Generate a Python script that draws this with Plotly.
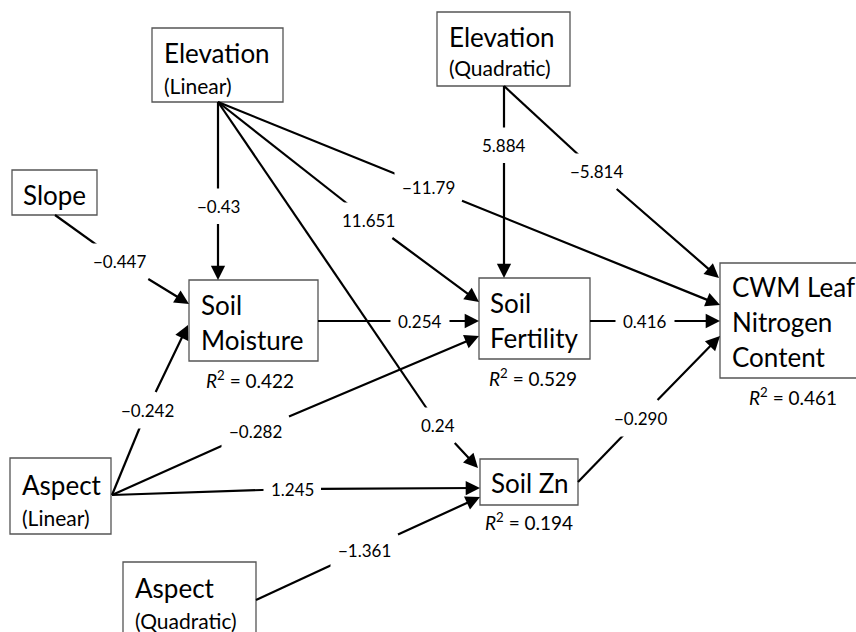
import plotly.graph_objects as go

# ---- data ----
node_ids = ["elev_lin", "elev_quad", "slope", "moist", "fert", "cwm", "asp_lin", "asp_quad", "zn"]
node_main = ["Elevation", "Elevation", "Slope", "Soil", "Soil", "CWM Leaf", "Aspect", "Aspect", "Soil Zn"]
node_sub = ["(Linear)", "(Quadratic)", "", "Moisture", "Fertility", "Nitrogen", "(Linear)", "(Quadratic)", ""]
node_sub2 = ["", "", "", "", "", "Content", "", "", ""]
r2_nodes = ["moist", "fert", "cwm", "zn"]
r2_values = ["0.422", "0.529", "0.461", "0.194"]

edge_from = ["elev_lin", "slope", "elev_lin", "elev_lin", "elev_lin", "elev_quad", "elev_quad",
             "moist", "fert", "asp_lin", "asp_lin", "asp_lin", "asp_quad", "zn"]
edge_to = ["moist", "moist", "fert", "cwm", "zn", "fert", "cwm",
           "fert", "cwm", "moist", "fert", "zn", "zn", "cwm"]
edge_coef = ["−0.43", "−0.447", "11.651", "−11.79", "0.24", "5.884", "−5.814",
             "0.254", "0.416", "−0.242", "−0.282", "1.245", "−1.361", "−0.290"]

# ---- layout (positions, pixels) ----
box = {  # x0, y0, x1, y1
    "elev_lin": (152, 28, 283, 102),
    "elev_quad": (437, 12, 570, 86),
    "slope": (12, 170, 97, 215),
    "moist": (189, 280, 318, 361),
    "fert": (479, 278, 590, 359),
    "cwm": (720, 263, 870, 378),
    "asp_lin": (10, 458, 111, 534),
    "asp_quad": (123, 562, 256, 645),
    "zn": (480, 459, 578, 505),
}
text_pos = {  # left x, main y, sub y, sub2 y
    "elev_lin": (162, 53, 85, None),
    "elev_quad": (447, 37, 67, None),
    "slope": (21, 195, None, None),
    "moist": (199, 305, 340, None),
    "fert": (488, 303, 338, None),
    "cwm": (730, 287, 322, 357),
    "asp_lin": (20, 485, 517, None),
    "asp_quad": (133, 588, 620, None),
    "zn": (489, 483, None, None),
}
sub_small = {"elev_lin", "elev_quad", "asp_lin", "asp_quad"}
r2_pos = {"moist": (250, 379), "fert": (533, 377), "cwm": (793, 396), "zn": (529, 521)}
edge_geom = [  # tail, head, label
    ((218, 102), (218, 280), (218, 206)),
    ((55, 215), (189, 304), (119, 261)),
    ((218, 102), (479, 302), (368, 220)),
    ((218, 102), (720, 305), (428, 187)),
    ((218, 102), (478, 468), (438, 425)),
    ((504, 86), (504, 278), (504, 145)),
    ((504, 86), (719, 278), (596, 171)),
    ((318, 321), (479, 321), (420, 321)),
    ((590, 321), (720, 321), (645, 321)),
    ((112, 495), (188, 325), (147, 410)),
    ((112, 495), (479, 336), (255, 431)),
    ((112, 495), (480, 488), (292, 489)),
    ((256, 600), (480, 497), (364, 550)),
    ((578, 482), (720, 336), (640, 418)),
]

FONT = "Lato"
fig = go.Figure()
fig.add_trace(go.Scatter(x=[0, 856], y=[0, 632], mode="markers", marker=dict(opacity=0),
                         hoverinfo="skip", showlegend=False))

shapes = []
for nid in node_ids:
    x0, y0, x1, y1 = box[nid]
    shapes.append(dict(type="rect", xref="x", yref="y", x0=x0, y0=y0, x1=x1, y1=y1,
                       line=dict(color="#555555", width=1.3), fillcolor="white", layer="below"))
# first half of each path: tail -> label (covered by the label's white box)
for (tail, head, lab) in edge_geom:
    shapes.append(dict(type="line", xref="x", yref="y", x0=tail[0], y0=tail[1], x1=lab[0], y1=lab[1],
                       line=dict(color="black", width=2.2), layer="above"))

ann = []
# second half: label -> head, with arrowhead; the label is the annotation text
for (tail, head, lab), coef in zip(edge_geom, edge_coef):
    ann.append(dict(x=head[0], y=head[1], ax=lab[0], ay=lab[1], xref="x", yref="y",
                    axref="x", ayref="y", showarrow=True, arrowhead=2, arrowsize=1.3,
                    arrowwidth=2.2, arrowcolor="black", standoff=0, startstandoff=0,
                    text=coef, bgcolor="white", borderpad=7,
                    font=dict(family=FONT, size=17, color="black")))
# node text
for nid, m, s, s2 in zip(node_ids, node_main, node_sub, node_sub2):
    lx, my, sy, s2y = text_pos[nid]
    ann.append(dict(x=lx, y=my, xref="x", yref="y", text=m, showarrow=False, xanchor="left",
                    font=dict(family=FONT, size=26, color="black")))
    if s:
        ann.append(dict(x=lx, y=sy, xref="x", yref="y", text=s, showarrow=False, xanchor="left",
                        font=dict(family=FONT, size=21 if nid in sub_small else 26, color="black")))
    if s2:
        ann.append(dict(x=lx, y=s2y, xref="x", yref="y", text=s2, showarrow=False, xanchor="left",
                        font=dict(family=FONT, size=26, color="black")))
# R2
for nid, v in zip(r2_nodes, r2_values):
    x, y = r2_pos[nid]
    ann.append(dict(x=x, y=y, xref="x", yref="y", text="<i>R</i><sup>2</sup> = " + v, showarrow=False,
                    font=dict(family=FONT, size=19, color="black")))

fig.update_layout(
    width=856, height=632, margin=dict(l=0, r=0, t=0, b=0),
    paper_bgcolor="white", plot_bgcolor="white",
    xaxis=dict(range=[0, 856], visible=False, fixedrange=True),
    yaxis=dict(range=[632, 0], visible=False, fixedrange=True),
    shapes=shapes, annotations=ann, showlegend=False,
)
fig.write_html("out.html", config={"displayModeBar": False},
               post_script="document.body.style.margin='0px';document.body.style.overflow='hidden';")
